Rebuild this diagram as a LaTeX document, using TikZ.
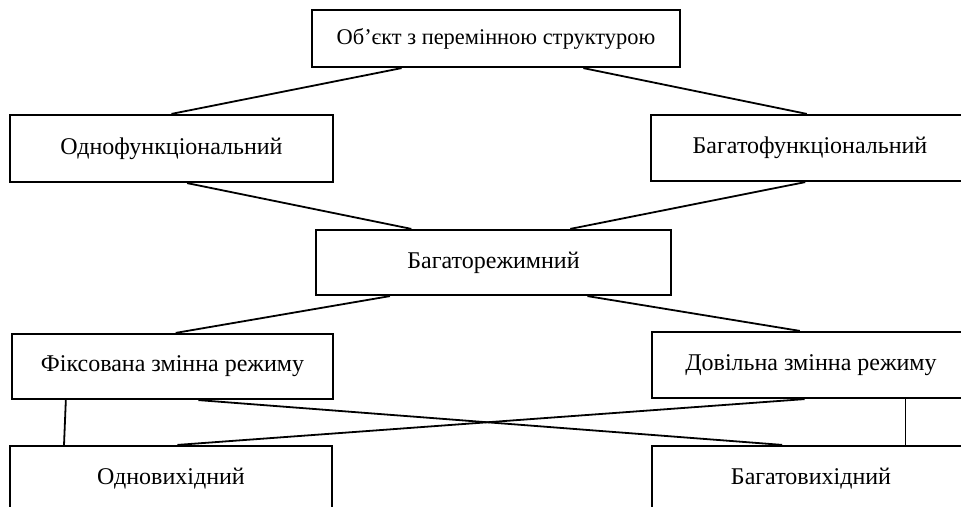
\documentclass[tikz,border=0pt]{standalone}
\usepackage{fontspec}
\setmainfont{Liberation Serif}
\usetikzlibrary{calc}
\tikzstyle{box}=[rectangle, draw=black, line width=2.2pt, fill=white, inner sep=0pt, anchor=center, font=\fontsize{24}{28}\selectfont]
\tikzstyle{link}=[draw=black, line width=1.8pt]

\begin{document}
\begin{tikzpicture}[x=1pt, y=-1pt]
	\useasboundingbox (0,0) rectangle (961,506);
	\clip (0,0) rectangle (961,506);

	\node[box, minimum width=368pt, minimum height=57pt, font=\fontsize{22.4}{26}\selectfont](object) at (496,38.5){Об’єкт з перемінною структурою};
	\node[box, minimum width=323pt, minimum height=67pt](onefunc) at (171.5,148.5){Однофункціональний};
	\node[box, minimum width=318pt, minimum height=66pt](multifunc) at (810,148){Багатофункціональний};
	\node[box, minimum width=355pt, minimum height=65pt](multimode) at (493.5,262.5){Багаторежимний};
	\node[box, minimum width=321pt, minimum height=65pt](fixed) at (172.5,366.5){Фіксована змінна режиму};
	\node[box, minimum width=318pt, minimum height=66pt](free) at (811,365){Довільна змінна режиму};
	\node[box, minimum width=322pt, minimum height=65pt](oneout) at (171,478.5){Одновихідний};
	\node[box, minimum width=318pt, minimum height=65pt](multiout) at (811,478.5){Багатовихідний};

	% upper level
	\draw[link] ($(object.south west)!0.245!(object.south east)$) -- (onefunc.north);
	\draw[link] ($(object.south west)!0.736!(object.south east)$) -- ($(multifunc.north west)!0.49!(multifunc.north east)$);
	\draw[link] ($(onefunc.south west)!0.548!(onefunc.south east)$) -- ($(multimode.north west)!0.27!(multimode.north east)$);
	\draw[link] ($(multifunc.south west)!0.485!(multifunc.south east)$) -- ($(multimode.north west)!0.715!(multimode.north east)$);

	% lower level
	\draw[link] ($(multimode.south west)!0.21!(multimode.south east)$) -- ($(fixed.north west)!0.51!(fixed.north east)$);
	\draw[link] ($(multimode.south west)!0.763!(multimode.south east)$) -- ($(free.north west)!0.465!(free.north east)$);
	\draw[link] ($(fixed.south west)!0.58!(fixed.south east)$) -- ($(multiout.north west)!0.41!(multiout.north east)$);
	\draw[link] ($(free.south west)!0.48!(free.south east)$) -- ($(oneout.north west)!0.52!(oneout.north east)$);
	\draw[link] ($(fixed.south west)!0.17!(fixed.south east)$) -- ($(oneout.north west)!0.17!(oneout.north east)$);
	\draw[link] ($(free.south west)!0.795!(free.south east)$) -- ($(multiout.north west)!0.795!(multiout.north east)$);

\end{tikzpicture}
\end{document}
